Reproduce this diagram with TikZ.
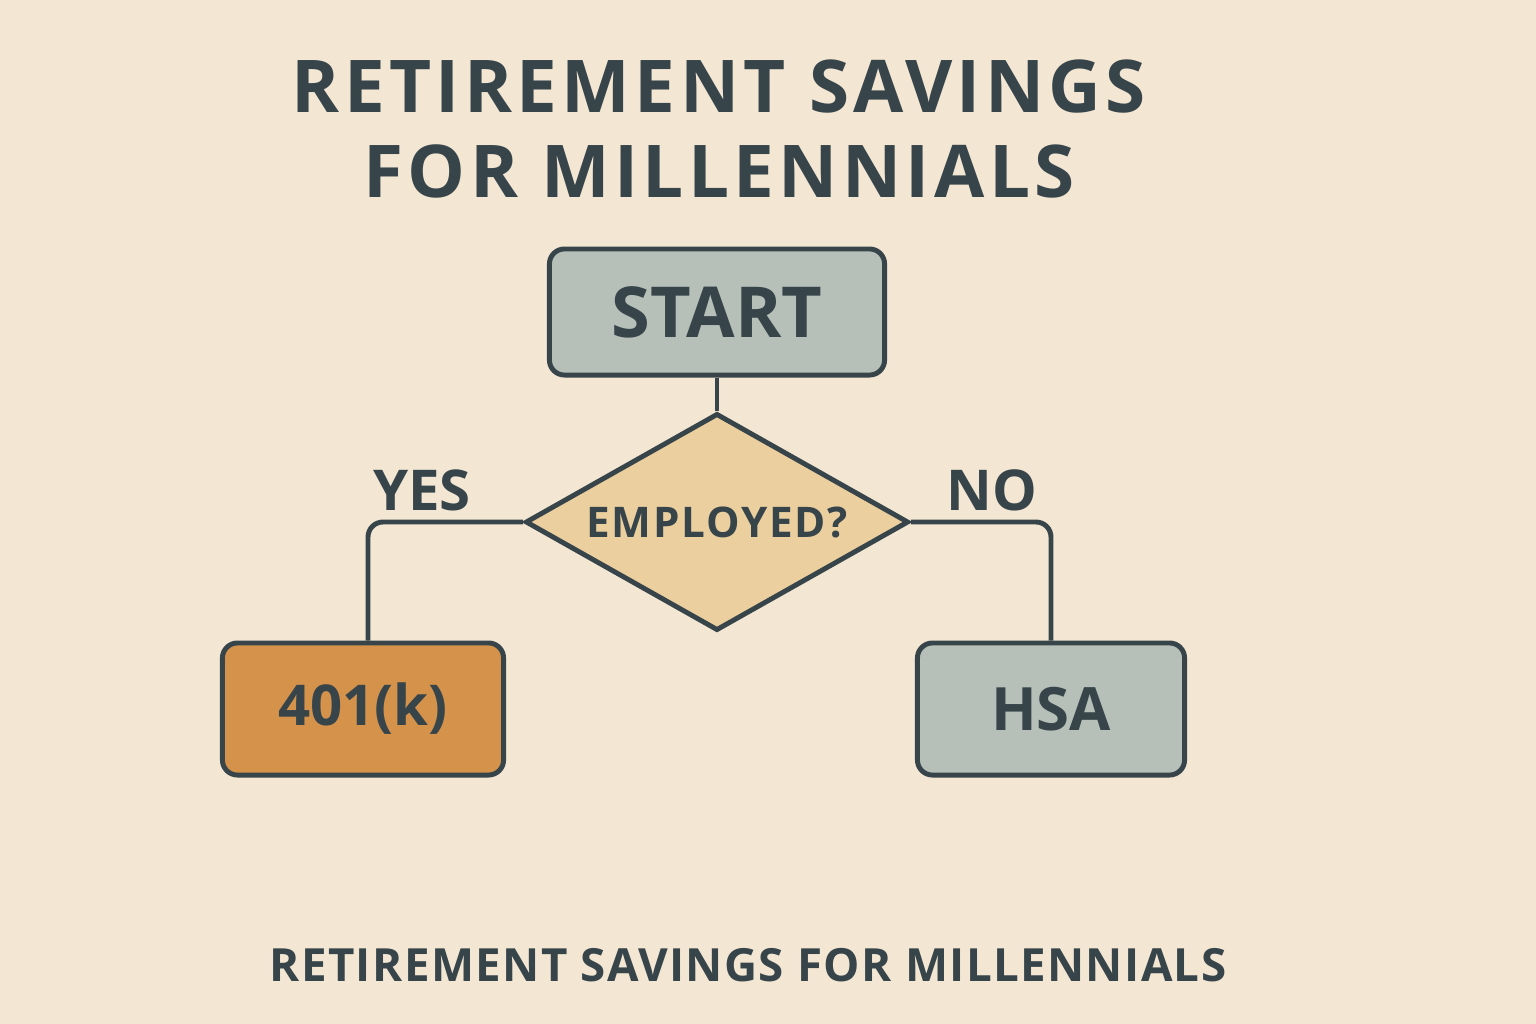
\documentclass[tikz,border=0pt]{standalone}
\usepackage{fontspec}
\setmainfont{Open Sans}
\usetikzlibrary{shapes.geometric}

\definecolor{paper}{HTML}{F3E6D3}
\definecolor{ink}{HTML}{37454B}
\definecolor{sage}{HTML}{B6C0B8}
\definecolor{sand}{HTML}{EBCF9F}
\definecolor{ochre}{HTML}{D4924B}

\tikzset{
    stepbox/.style={draw=ink, line width=1.4pt, rounded corners=0.15cm, text=ink, font=\bfseries\fontsize{20}{24}\selectfont},
    ask/.style={draw=ink, line width=1.4pt, diamond, aspect=1.77, inner sep=0pt, minimum width=3.83cm, minimum height=2.17cm, fill=sand, text=ink, font=\bfseries\fontsize{12}{14}\selectfont\addfontfeatures{LetterSpace=4}},
    link/.style={draw=ink, line width=1.4pt, rounded corners=0.15cm},
    tag/.style={text=ink, font=\bfseries\fontsize{16}{19}\selectfont}
}

\begin{document}
\begin{tikzpicture}[x=0.01cm, y=-0.01cm]
        \fill[paper] (0,0) rectangle (1536,1024);
        \useasboundingbox (0,0) rectangle (1536,1024);

        \node[text=ink, align=center, font=\bfseries\fontsize{20.7}{24.2}\selectfont\addfontfeatures{LetterSpace=6}] (title) at (719, 129) {RETIREMENT SAVINGS\\FOR MILLENNIALS};

        \node[stepbox, fill=sage, minimum width=3.35cm, minimum height=1.26cm] (start) at (717, 312) {START};
        \node[ask] (employed) at (717, 522) {EMPLOYED?};

        \node[stepbox, fill=ochre, minimum width=2.81cm, minimum height=1.32cm, font=\bfseries\fontsize{16}{19}\selectfont] (k401) at (363, 709) {401(k)};
        \node[stepbox, fill=sage, minimum width=2.67cm, minimum height=1.32cm, font=\bfseries\fontsize{17}{20}\selectfont] (hsa) at (1051, 709) {HSA};

        \draw[link] (start.south) -- (employed.north);
        \draw[link] (employed.west) -| ([xshift=0.05cm]k401.north);
        \draw[link] (employed.east) -| (hsa.north);

        \node[tag] (yes) at (422, 490) {YES};
        \node[tag] (no) at (992, 490) {NO};

        \node[text=ink, font=\bfseries\fontsize{13}{16}\selectfont\addfontfeatures{LetterSpace=3}] (footer) at (748, 965) {RETIREMENT SAVINGS FOR MILLENNIALS};

    \end{tikzpicture}
\end{document}
